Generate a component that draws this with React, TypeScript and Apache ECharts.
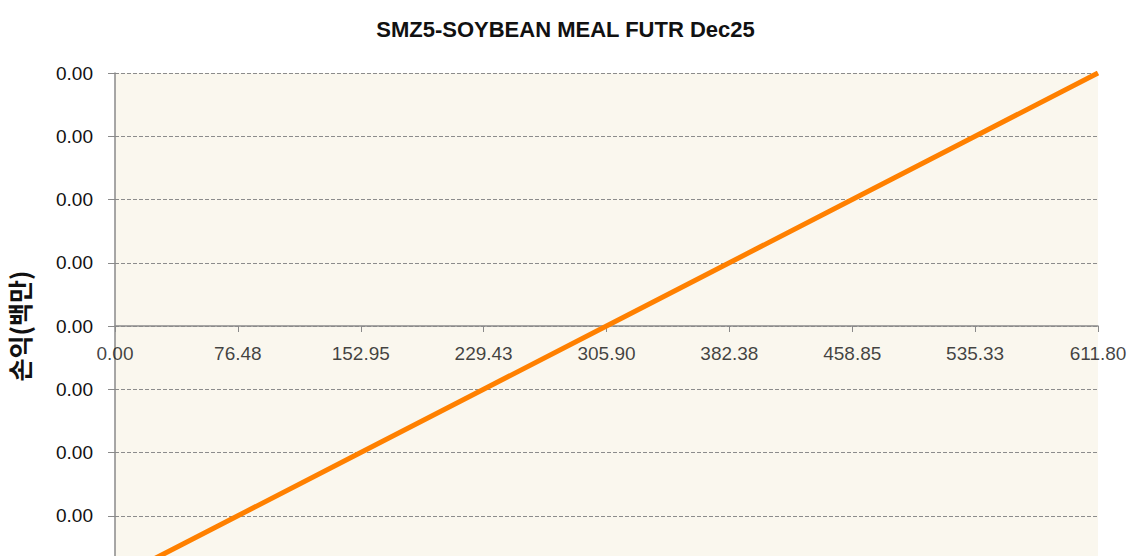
import React, { useEffect, useRef } from "react";
import * as echarts from "echarts";

const chartTitle = "SMZ5-SOYBEAN MEAL FUTR Dec25";
const yAxisTitle = "손익(백만)";
const prices = [0, 76.475, 152.95, 229.425, 305.9, 382.375, 458.85, 535.325, 611.8];
const pnl = [-0.004, -0.003, -0.002, -0.001, 0, 0.001, 0.002, 0.003, 0.004];
const xTickLabels = ["0.00", "76.48", "152.95", "229.43", "305.90", "382.38", "458.85", "535.33", "611.80"];

export default function App() {
  const ref = useRef<HTMLDivElement>(null);
  useEffect(() => {
    if (!ref.current) return;
    const chart = echarts.init(ref.current, null, { renderer: "svg" });
    const axisGray = "#8a8a8a";
    const font = "'Liberation Sans', Arial, sans-serif";
    chart.setOption({
      animation: false,
      backgroundColor: "#ffffff",
      title: {
        text: chartTitle,
        left: "center",
        top: 13,
        textStyle: { fontFamily: font, fontWeight: "bold", fontSize: 22, color: "#111" },
      },
      grid: {
        left: 115,
        right: 33,
        top: 73,
        bottom: 21,
        show: true,
        backgroundColor: "#faf7ee",
        borderWidth: 0,
        containLabel: false,
        outerBoundsMode: "none",
      },
      xAxis: {
        type: "value",
        min: 0,
        max: 611.8,
        interval: 76.475,
        axisLine: { show: true, onZero: true, lineStyle: { color: axisGray, width: 1.5 } },
        axisTick: { show: true, inside: false, length: 6, lineStyle: { color: axisGray } },
        axisLabel: { show: false },
        splitLine: { show: false },
      },
      yAxis: {
        type: "value",
        min: -0.004,
        max: 0.004,
        interval: 0.001,
        name: yAxisTitle,
        nameLocation: "middle",
        nameRotate: 90,
        nameGap: 84,
        nameTextStyle: {
          fontFamily: "'Noto Sans CJK KR', sans-serif",
          fontWeight: "bold",
          fontSize: 25,
          color: "#111",
        },
        axisLine: { show: true, onZero: false, lineStyle: { color: axisGray, width: 1.5 } },
        axisTick: { show: true, inside: false, length: 7, lineStyle: { color: axisGray } },
        axisLabel: {
          margin: 22,
          fontFamily: font,
          fontSize: 19,
          color: "#111",
          showMinLabel: false,
          formatter: (v: number) => Math.abs(v).toFixed(2),
        },
        splitLine: { show: true, lineStyle: { color: "#8c8c8c", type: [4, 2], width: 1 } },
      },
      series: [
        {
          type: "line",
          data: prices.map((p, i) => [p, pnl[i]]),
          symbol: "none",
          lineStyle: { color: "#ff8000", width: 5 },
          z: 3,
        },
        {
          type: "scatter",
          silent: true,
          symbolSize: 0,
          data: prices.map((p) => [p, 0]),
          label: {
            show: true,
            position: "bottom",
            distance: 18,
            fontFamily: font,
            fontSize: 19,
            color: "#111",
            formatter: (p: any) => xTickLabels[p.dataIndex],
          },
          z: 4,
        },
      ],
    });
    return () => chart.dispose();
  }, []);
  return (
    <div
      ref={ref}
      style={{ position: "fixed", left: 0, top: 0, width: 1131, height: 600 }}
    />
  );
}
